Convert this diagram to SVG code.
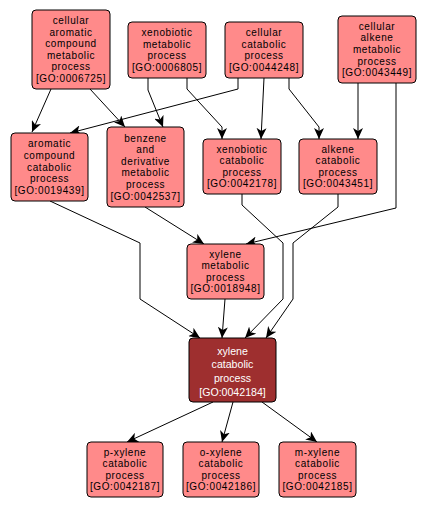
<svg xmlns="http://www.w3.org/2000/svg" width="426" height="509" viewBox="0 0 426 509">
<style>
.n rect{fill:#ff8a8a;stroke:#000;stroke-width:1}
.n text{font-family:"Liberation Sans",Arial,sans-serif;font-size:10px;letter-spacing:0.6px;text-anchor:middle;fill:#000}
.d rect{fill:#9e2f2f;stroke:#000;stroke-width:1}
.d text{font-family:"Liberation Sans",Arial,sans-serif;font-size:10.6px;text-anchor:middle;fill:#fff}
#edges path{fill:none;stroke:#000;stroke-width:1;marker-end:url(#ah)}
</style>
<defs>
<marker id="ah" markerUnits="userSpaceOnUse" markerWidth="12" markerHeight="10" viewBox="0 0 12 10" refX="11" refY="5" orient="auto">
<path d="M0,0 L11,5 L0,10 L3,5 z" fill="#000"/>
</marker>
</defs>
<rect width="426" height="509" fill="#fff"/>
<g id="edges">
<path d="M51,89 L32,132"/>
<path d="M90,89 L125,127"/>
<path d="M148,78 L148,90 L163,127"/>
<path d="M187,78 L187,89 L222,127 L222,139"/>
<path d="M238,78 L238,89 L70,133"/>
<path d="M264,78 L261,139"/>
<path d="M289,78 L289,89 L319,127 L319,139"/>
<path d="M358,83 L358,139"/>
<path d="M396,83 L396,208 L246,244"/>
<path d="M50,201 L140,243 L140,299 L200,338"/>
<path d="M145,207 L204,244"/>
<path d="M242,194 L242,205 L283,243 L283,299 L245,338"/>
<path d="M338,194 L338,207 L293,243 L293,299 L266,338"/>
<path d="M225,299 L222,338"/>
<path d="M213,402 L127,442"/>
<path d="M233,402 L222,442"/>
<path d="M262,402 L317,442"/>
</g>
<g id="GO0006725" class="n"><rect x="32" y="10" width="78" height="79" rx="4"/>
<text x="71" y="24">cellular</text><text x="71" y="35.6">aromatic</text><text x="71" y="47.2">compound</text><text x="71" y="58.8">metabolic</text><text x="71" y="70.4">process</text><text x="71" y="82">[GO:0006725]</text></g>
<g id="GO0006805" class="n"><rect x="128" y="22" width="78" height="56" rx="4"/>
<text x="167" y="36">xenobiotic</text><text x="167" y="47.6">metabolic</text><text x="167" y="59.2">process</text><text x="167" y="70.8">[GO:0006805]</text></g>
<g id="GO0044248" class="n"><rect x="225" y="22" width="78" height="56" rx="4"/>
<text x="264" y="36">cellular</text><text x="264" y="47.6">catabolic</text><text x="264" y="59.2">process</text><text x="264" y="70.8">[GO:0044248]</text></g>
<g id="GO0043449" class="n"><rect x="338" y="16" width="78" height="67" rx="4"/>
<text x="377" y="29.8">cellular</text><text x="377" y="41.4">alkene</text><text x="377" y="53">metabolic</text><text x="377" y="64.6">process</text><text x="377" y="76.2">[GO:0043449]</text></g>
<g id="GO0019439" class="n"><rect x="11" y="133" width="77" height="68" rx="4"/>
<text x="49.5" y="147.3">aromatic</text><text x="49.5" y="158.9">compound</text><text x="49.5" y="170.5">catabolic</text><text x="49.5" y="182.1">process</text><text x="49.5" y="193.7">[GO:0019439]</text></g>
<g id="GO0042537" class="n"><rect x="107" y="127" width="77" height="80" rx="4"/>
<text x="145.5" y="141.5">benzene</text><text x="145.5" y="153.1">and</text><text x="145.5" y="164.7">derivative</text><text x="145.5" y="176.3">metabolic</text><text x="145.5" y="187.9">process</text><text x="145.5" y="199.5">[GO:0042537]</text></g>
<g id="GO0042178" class="n"><rect x="203" y="139" width="78" height="55" rx="4"/>
<text x="242" y="152.6">xenobiotic</text><text x="242" y="164.2">catabolic</text><text x="242" y="175.8">process</text><text x="242" y="187.4">[GO:0042178]</text></g>
<g id="GO0043451" class="n"><rect x="299" y="139" width="78" height="55" rx="4"/>
<text x="338" y="152.6">alkene</text><text x="338" y="164.2">catabolic</text><text x="338" y="175.8">process</text><text x="338" y="187.4">[GO:0043451]</text></g>
<g id="GO0018948" class="n"><rect x="187" y="244" width="77" height="55" rx="4"/>
<text x="225.5" y="257.6">xylene</text><text x="225.5" y="269.2">metabolic</text><text x="225.5" y="280.8">process</text><text x="225.5" y="292.4">[GO:0018948]</text></g>
<g id="GO0042184" class="d"><rect x="189" y="338" width="87" height="64" rx="4"/>
<text x="232.5" y="354.5">xylene</text><text x="232.5" y="368.2">catabolic</text><text x="232.5" y="381.9">process</text><text x="232.5" y="395.6">[GO:0042184]</text></g>
<g id="GO0042187" class="n"><rect x="87" y="442" width="76" height="55" rx="4"/>
<text x="125" y="455.6">p-xylene</text><text x="125" y="467.2">catabolic</text><text x="125" y="478.8">process</text><text x="125" y="490.4">[GO:0042187]</text></g>
<g id="GO0042186" class="n"><rect x="183" y="442" width="76" height="55" rx="4"/>
<text x="221" y="455.6">o-xylene</text><text x="221" y="467.2">catabolic</text><text x="221" y="478.8">process</text><text x="221" y="490.4">[GO:0042186]</text></g>
<g id="GO0042185" class="n"><rect x="279" y="442" width="77" height="55" rx="4"/>
<text x="317.5" y="455.6">m-xylene</text><text x="317.5" y="467.2">catabolic</text><text x="317.5" y="478.8">process</text><text x="317.5" y="490.4">[GO:0042185]</text></g>
</svg>
